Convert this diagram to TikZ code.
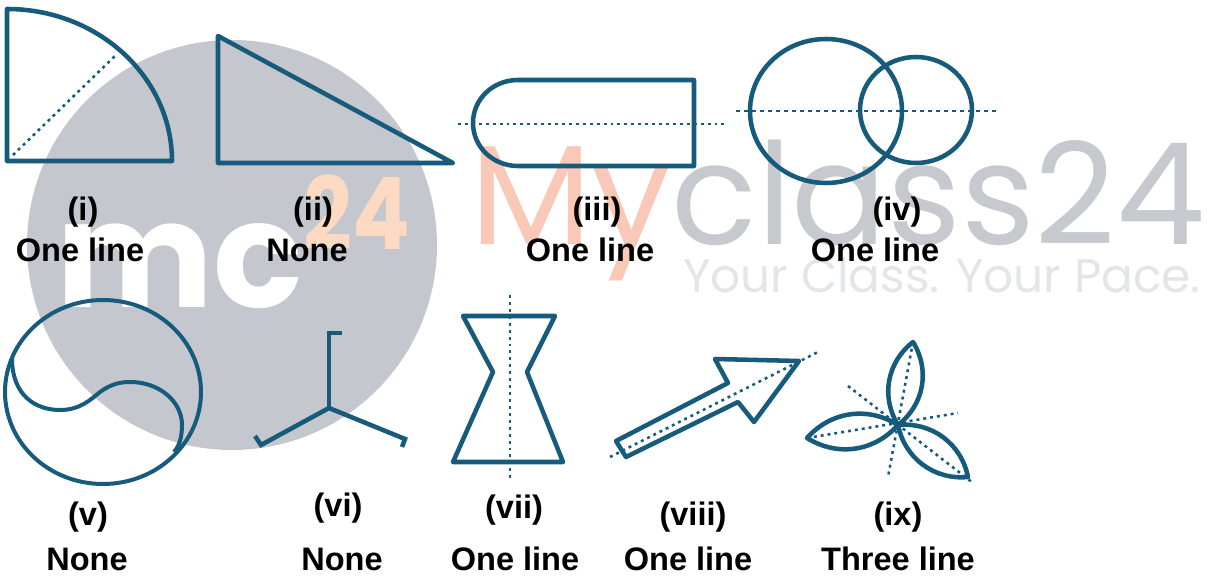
\documentclass[tikz,border=0pt]{standalone}
\usepackage{fontspec}
\setmainfont{Liberation Sans}
\newfontfamily\wmfont{Poppins}
\definecolor{shpc}{RGB}{22,90,124}
\definecolor{wmgray}{RGB}{196,199,205}
\definecolor{wmorange}{RGB}{252,217,194}
\definecolor{wmsalmon}{RGB}{250,200,182}
\definecolor{wmtext}{RGB}{198,201,206}
\definecolor{wmlight}{RGB}{228,229,232}
\begin{document}
\begin{tikzpicture}[x=0.75pt,y=-0.75pt,
  shp/.style={draw=shpc,line width=3.4pt,line join=round},
  dotl/.style={draw=shpc,line width=1.9pt,dash pattern=on 2.2pt off 3pt},
  lbl/.style={font=\fontsize{24.4}{28}\selectfont\bfseries,text=black,inner sep=0pt}]
\useasboundingbox (0,0) rectangle (1211,577);
\fill[white] (0,0) rectangle (1211,577);
% ---------- watermark ----------
\fill[wmgray] (232,245) circle[radius=205];
\node[anchor=base west,inner sep=0pt,text=white] (wmmc) at (56,308)
  {\resizebox{185pt}{!}{\wmfont\bfseries mc}};
\node[anchor=base west,inner sep=0pt,text=wmorange] (wm24) at (303,250)
  {\resizebox{80pt}{56pt}{\wmfont\bfseries 24}};
\node[anchor=base west,inner sep=0pt] (wmname) at (470,245)
  {\resizebox{551pt}{!}{\wmfont{\color{wmsalmon}My}{\color{wmtext}class24}}};
\node[anchor=base west,inner sep=0pt,text=wmlight] (wmslogan) at (683,293)
  {\resizebox{388pt}{!}{\wmfont Your Class. Your Pace.}};
% ---------- (i) quarter circle ----------
\draw[shp] (7,9) .. controls (98,9) and (172,77) .. (172,161) -- (7,161) -- cycle;
\draw[dotl] (13,155) -- (115,56);
% ---------- (ii) triangle ----------
\draw[shp] (218,36) -- (453,163) -- (218,163) -- cycle;
% ---------- (iii) stadium ----------
\draw[shp] (518,80) -- (694,80) -- (694,166) -- (518,166)
  .. controls (493,166) and (473,147) .. (473,123)
  .. controls (473,99) and (493,80) .. (518,80) -- cycle;
\draw[dotl] (458,124) -- (725,124);
% ---------- (iv) two circles ----------
\draw[shp] (826,111) circle[x radius=76,y radius=72];
\draw[shp] (916,110) circle[x radius=56,y radius=53];
\draw[draw=shpc,line width=1.4pt,dash pattern=on 3pt off 3pt] (736,111) -- (999,111);
% ---------- (v) circle with curve ----------
\draw[shp,line width=3pt] (103,392) circle[x radius=98,y radius=92];
\draw[shp,line width=3pt] (12,358) .. controls (12,395) and (35,410) .. (60,410)
  .. controls (80,410) and (90,400) .. (100,392)
  .. controls (110,385) and (118,382) .. (130,382)
  .. controls (160,382) and (182,402) .. (182,425)
  .. controls (182,438) and (179,446) .. (174,452);
% ---------- (vi) three arms ----------
\draw[shp,line join=miter] (255,436) -- (261,445) -- (329,408) -- (405,439) -- (402,447);
\draw[shp,line join=miter] (329,408) -- (329,333) -- (342,333);
% ---------- (vii) hourglass ----------
\draw[shp] (463,316) -- (555,316) -- (527,372) -- (563,462) -- (453,462) -- (493,372) -- cycle;
\draw[dotl] (510,295) -- (510,480);
% ---------- (viii) arrow ----------
\draw[shp] (616,441) -- (728,383) -- (715,359) -- (799,361) -- (754,422) -- (738,402) -- (626,457) -- cycle;
\draw[dotl] (610,457) -- (818,352);
% ---------- (ix) three petals ----------
\coordinate (pc) at (898,425);
\coordinate (pt1) at (913,342);
\coordinate (pt2) at (807,438);
\coordinate (pt3) at (968,477);
\draw[shp] (pc) to[bend left=42] (pt1) to[bend left=42] (pc);
\draw[shp] (pc) to[bend left=40] (pt2) to[bend left=40] (pc);
\draw[shp] (pc) to[bend left=42] (pt3) to[bend left=42] (pc);
\draw[dotl] (pt1) -- (888,477);
\draw[dotl] (pt2) -- (958,413);
\draw[dotl] (848,386) -- (973,483);
% ---------- labels ----------
\node[lbl] (n1) at (83,212) {(i)};
\node[lbl] (a1) at (80,250) {One line};
\node[lbl] (n2) at (313,212) {(ii)};
\node[lbl] (a2) at (307,250) {None};
\node[lbl] (n3) at (597,212) {(iii)};
\node[lbl] (a3) at (590,250) {One line};
\node[lbl] (n4) at (897,212) {(iv)};
\node[lbl] (a4) at (875,250) {One line};
\node[lbl] (n5) at (88,517) {(v)};
\node[lbl] (a5) at (87,559) {None};
\node[lbl] (n6) at (338,508) {(vi)};
\node[lbl] (a6) at (342,559) {None};
\node[lbl] (n7) at (514,510) {(vii)};
\node[lbl] (a7) at (515,559) {One line};
\node[lbl] (n8) at (693,517) {(viii)};
\node[lbl] (a8) at (688,559) {One line};
\node[lbl] (n9) at (898,517) {(ix)};
\node[lbl] (a9) at (898,559) {Three line};
\end{tikzpicture}
\end{document}
